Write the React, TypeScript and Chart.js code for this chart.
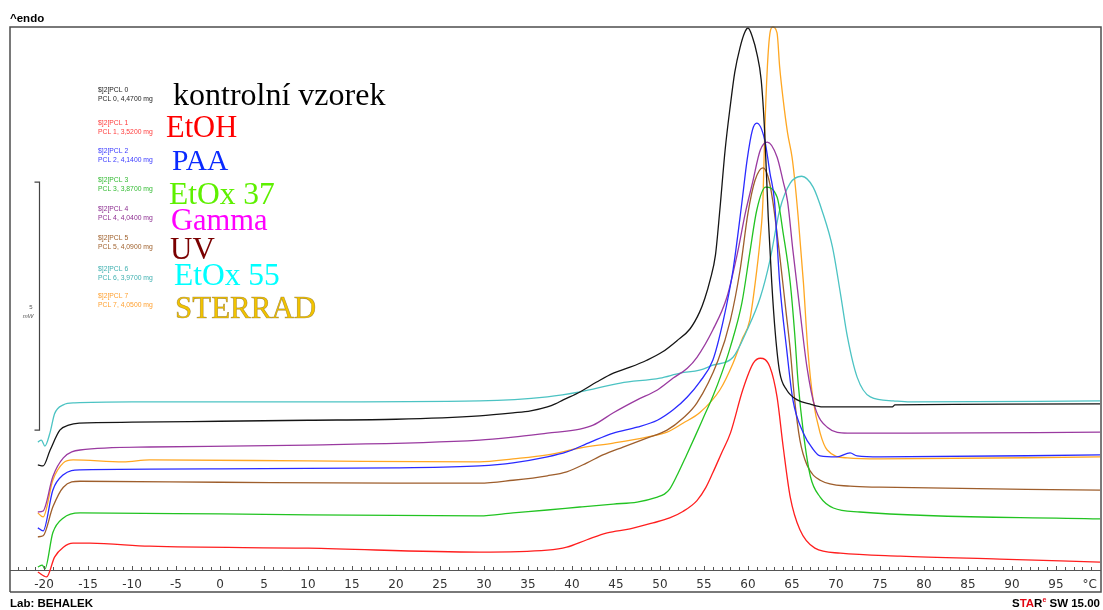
import { useEffect, useRef } from "react";
import { Chart, registerables } from "chart.js";

Chart.register(...registerables);

// Heat flow (mW, endo up) against sample temperature (°C) for each PCL sample.
const kontrolniT = [-20.7, -20.1, -19.3, -18.2, -17.2, -16, -10, 0, 10, 20, 29.5, 33.3, 35.3, 37.2, 38.1, 39, 40.9, 42.8, 44.7, 46.6, 48.5, 50.3, 51.9, 53.4, 54.5, 55.1, 55.7, 56.3, 56.8, 57.4, 58, 58.5, 59.1, 59.6, 60, 60.5, 61, 61.5, 61.9, 62.3, 62.7, 63.1, 63.6, 64.4, 65.6, 67, 68.5, 76.4, 76.7, 100];
const kontrolniHF = [2.14, 2.12, 2.44, 2.84, 2.94, 2.98, 3.0, 3.02, 3.04, 3.06, 3.13, 3.19, 3.23, 3.31, 3.37, 3.45, 3.61, 3.81, 3.99, 4.11, 4.25, 4.42, 4.64, 4.88, 5.22, 5.5, 5.87, 6.37, 7.28, 8.49, 9.4, 10.06, 10.56, 10.85, 10.95, 10.77, 10.44, 9.9, 8.83, 7.14, 5.81, 4.8, 4.01, 3.65, 3.45, 3.37, 3.31, 3.31, 3.35, 3.37];

const etohT = [-20.7, -19.7, -18.8, -17.8, -16.7, -14.8, -8, 10, 29.5, 37.2, 39.4, 41.7, 44, 46.6, 49.2, 51.1, 52.6, 54.2, 55.2, 56, 57, 58, 59.4, 60.6, 61.4, 62.5, 63.3, 64, 64.8, 65.9, 67.6, 70.5, 77.3, 88.6, 100];
const etohHF = [-0.02, -0.12, 0.28, 0.48, 0.56, 0.56, 0.5, 0.46, 0.38, 0.42, 0.48, 0.63, 0.77, 0.85, 0.97, 1.07, 1.2, 1.42, 1.68, 1.98, 2.38, 2.78, 3.65, 4.19, 4.29, 4.11, 3.51, 2.5, 1.49, 0.83, 0.46, 0.36, 0.3, 0.24, 0.18];

const paaT = [-20.7, -20.1, -19, -17.8, -15.9, 0, 20, 29.5, 33.3, 37.2, 39.4, 42.1, 44.7, 47.4, 49.7, 51.5, 53.1, 54.5, 56, 57.2, 58.3, 59.3, 59.9, 60.5, 61, 61.9, 62.5, 63, 63.6, 64.4, 65.1, 66.3, 67.3, 68.2, 70.1, 71.6, 72.4, 75, 100];
const paaHF = [0.87, 0.81, 1.63, 1.94, 2.04, 2.06, 2.08, 2.12, 2.18, 2.3, 2.4, 2.6, 2.78, 2.9, 3.04, 3.25, 3.51, 3.81, 4.25, 5.06, 6.07, 7.42, 8.29, 8.89, 9.03, 8.69, 8.02, 7.48, 5.81, 4.46, 3.45, 2.78, 2.48, 2.32, 2.3, 2.38, 2.32, 2.3, 2.34];

const etox37T = [-20.7, -20.2, -19.9, -19, -17.8, -15.9, 0, 29.5, 33.3, 37.2, 40.9, 44.7, 47.4, 49.7, 50.5, 51.1, 52, 53, 54, 55, 56, 57, 58, 59.3, 60.2, 61, 62, 63.3, 64, 64.8, 65.3, 65.7, 66.3, 67.1, 68.2, 69.7, 72.7, 100];
const etox37HF = [0.08, 0.12, 0.04, 0.77, 1.07, 1.17, 1.15, 1.11, 1.17, 1.23, 1.29, 1.35, 1.39, 1.49, 1.55, 1.65, 1.95, 2.33, 2.72, 3.12, 3.52, 3.98, 4.52, 5.4, 6.41, 7.28, 7.74, 7.54, 6.81, 5.81, 4.8, 3.79, 2.78, 1.9, 1.49, 1.27, 1.19, 1.05];

const gammaT = [-20.7, -20.1, -19, -17.8, -15.9, -8, 10, 29.5, 33.3, 37.2, 40.9, 42.4, 44.7, 47.4, 49.7, 51.5, 53.1, 54.2, 56, 57.6, 58.8, 59.7, 60.5, 61.4, 62.2, 63.3, 64, 64.5, 65.1, 65.9, 66.7, 67.6, 69, 71.3, 78.4, 100];
const gammaHF = [1.19, 1.21, 1.9, 2.28, 2.44, 2.5, 2.54, 2.64, 2.7, 2.78, 2.86, 2.94, 3.19, 3.45, 3.65, 3.89, 4.09, 4.31, 4.86, 5.52, 6.41, 7.22, 7.82, 8.49, 8.65, 8.35, 7.85, 7.45, 6.47, 5.26, 4.11, 3.31, 2.9, 2.78, 2.78, 2.8];

const uvT = [-20.7, -20.1, -19, -17.8, -15.9, 0, 20, 29.5, 33.3, 37.2, 39.4, 41.7, 43.5, 45.8, 48.5, 50.8, 52.6, 54.2, 56.6, 58, 59.1, 60, 60.8, 61.7, 62.3, 62.8, 63.6, 64.3, 64.8, 65.3, 65.9, 66.7, 68.2, 71.6, 75, 100];
const uvHF = [0.69, 0.71, 1.29, 1.69, 1.81, 1.79, 1.77, 1.77, 1.83, 1.92, 2.0, 2.18, 2.34, 2.5, 2.68, 2.84, 3.08, 3.39, 4.25, 5.06, 6.07, 7.22, 7.88, 8.13, 7.94, 7.48, 6.37, 5.26, 4.46, 3.45, 2.64, 2.14, 1.83, 1.71, 1.69, 1.63];

const etox55T = [-20.7, -20.3, -19.9, -19.3, -18.8, -17.8, -16.5, -10, 10, 29.5, 37.2, 40.9, 45.5, 50, 52.3, 54.5, 56, 58.3, 59.9, 61.4, 62.5, 63.6, 64.8, 66.1, 67.4, 68.5, 69.6, 70.5, 71.3, 72.4, 73.9, 76.5, 78.4, 100];
const etox55HF = [2.6, 2.64, 2.52, 2.8, 3.17, 3.35, 3.39, 3.41, 3.41, 3.43, 3.51, 3.61, 3.79, 3.89, 3.99, 4.05, 4.15, 4.31, 4.86, 5.52, 6.27, 7.28, 7.82, 7.96, 7.74, 7.22, 6.53, 5.6, 4.72, 3.91, 3.51, 3.43, 3.41, 3.43];

const sterradT = [-20.7, -20.1, -19, -17.8, -16.7, -11, -8, 10, 29.5, 33.3, 37.2, 40.9, 44.7, 48.5, 50.8, 52.6, 54.5, 56.8, 58.3, 59.3, 60.2, 61, 61.4, 61.7, 61.9, 62.2, 62.5, 62.8, 63.3, 63.6, 64, 64.5, 65, 65.3, 65.7, 66.3, 66.8, 67.4, 68.2, 69, 71.3, 75, 100];
const sterradHF = [1.17, 1.09, 1.83, 2.18, 2.24, 2.2, 2.24, 2.22, 2.2, 2.26, 2.34, 2.48, 2.58, 2.7, 2.8, 2.98, 3.19, 3.65, 4.19, 4.66, 5.06, 6.07, 6.73, 7.48, 8.83, 10.16, 10.85, 10.97, 10.85, 10.16, 9.5, 8.83, 8.35, 7.9, 7.14, 5.81, 4.46, 3.45, 2.78, 2.44, 2.28, 2.26, 2.3];

const sampleNames = ["kontrolní vzorek", "EtOH", "PAA", "EtOx 37", "Gamma", "UV", "EtOx 55", "STERRAD"];
const sampleMasses = ["4,4700", "3,5200", "4,1400", "3,8700", "4,0400", "4,0900", "3,9700", "4,0500"];

const xTickStep = 5;
const scaleBarMW = 5;

const series = [
  { t: kontrolniT, hf: kontrolniHF },
  { t: etohT, hf: etohHF },
  { t: paaT, hf: paaHF },
  { t: etox37T, hf: etox37HF },
  { t: gammaT, hf: gammaHF },
  { t: uvT, hf: uvHF },
  { t: etox55T, hf: etox55HF },
  { t: sterradT, hf: sterradHF },
];

// Styling
const curveColors = ["#151515", "#ff1e1e", "#2a2aff", "#22c322", "#9a3aa0", "#9e5e2c", "#4cc3c3", "#ffa722"];
const tagColors = ["#222222", "#ff3c3c", "#3a3aff", "#33bb33", "#8d2e91", "#a0622e", "#3fb0b0", "#ffa030"];
const nameColors = ["#000000", "#ff0000", "#0a2aff", "#5ef000", "#ff00ff", "#7a0000", "#00ffff", "#f2c400"];

const legendLayout = {
  tagX: 98,
  tagY: [90, 123, 151, 180, 209, 238, 269, 296],
  tagGap: 9.5,
  nameX: [173, 166, 172, 169, 171, 170, 174, 175],
  nameBaseline: [105, 137, 170, 204, 230, 259, 285, 318],
  nameSize: [32, 30.5, 29.5, 31.5, 30.5, 31, 31.5, 31],
};

const X_MIN = -23.864;
const X_MAX = 100;
const Y_MIN = 0.02;
const Y_MAX = 10.97;

const frameColor = "#4d4d4d";

const decorPlugin = {
  id: "dscDecor",
  afterDraw(chart: any) {
    const ctx: CanvasRenderingContext2D = chart.ctx;
    const { left, right, top, bottom } = chart.chartArea;
    const xs = chart.scales.x;
    const ys = chart.scales.y;
    const frameBottom = bottom + 22;
    ctx.save();

    // outer frame
    ctx.strokeStyle = frameColor;
    ctx.lineWidth = 1.5;
    ctx.beginPath();
    ctx.moveTo(left, frameBottom);
    ctx.lineTo(left, top);
    ctx.lineTo(right + 1, top);
    ctx.lineTo(right + 1, frameBottom);
    ctx.lineTo(left, frameBottom);
    ctx.stroke();

    // minor ticks every degree, pointing into the plot
    ctx.lineWidth = 1;
    ctx.strokeStyle = "#555";
    ctx.beginPath();
    for (let t = Math.ceil(X_MIN); t < X_MAX; t++) {
      const px = Math.round(xs.getPixelForValue(t)) + 0.5;
      ctx.moveTo(px, bottom);
      ctx.lineTo(px, bottom - (t % xTickStep === 0 ? 4 : 3));
    }
    ctx.stroke();

    // unit at the end of the temperature axis
    ctx.fillStyle = "#333";
    ctx.font = "12px 'DejaVu Sans'";
    ctx.textAlign = "right";
    ctx.textBaseline = "middle";
    ctx.fillText("°C", right - 3, bottom + 15);

    // 5 mW scale bar
    const barX = Math.round(xs.getPixelForValue(-20.6)) + 0.5;
    const barBottom = ys.getPixelForValue(2.84);
    const barTop = ys.getPixelForValue(2.84 + scaleBarMW);
    ctx.strokeStyle = "#444";
    ctx.lineWidth = 1.2;
    ctx.beginPath();
    ctx.moveTo(barX - 5, barTop);
    ctx.lineTo(barX, barTop);
    ctx.lineTo(barX, barBottom);
    ctx.lineTo(barX - 5, barBottom);
    ctx.stroke();
    ctx.fillStyle = "#555";
    ctx.textAlign = "right";
    ctx.font = "6px 'Liberation Sans'";
    const barMid = (barTop + barBottom) / 2;
    ctx.fillText(String(scaleBarMW), barX - 7, barMid + 1);
    ctx.font = "italic 6px 'Liberation Sans'";
    ctx.fillText("mW", barX - 6, barMid + 10);

    // header and footer texts
    ctx.fillStyle = "#000";
    ctx.textAlign = "left";
    ctx.textBaseline = "alphabetic";
    ctx.font = "bold 11.5px 'Liberation Sans'";
    ctx.fillText("^endo", left, top - 5);
    ctx.fillText("Lab: BEHALEK", left, frameBottom + 15);

    // software mark, right aligned
    const parts: [string, string, string][] = [
      ["S", "#000", "bold 11.5px 'Liberation Sans'"],
      ["TA", "#e30613", "bold 11.5px 'Liberation Sans'"],
      ["R", "#000", "bold 11.5px 'Liberation Sans'"],
      ["e", "#e30613", "bold 7px 'Liberation Sans'"],
      [" SW 15.00", "#000", "bold 11.5px 'Liberation Sans'"],
    ];
    let total = 0;
    for (const [s, , f] of parts) {
      ctx.font = f;
      total += ctx.measureText(s).width;
    }
    let cx = right - total;
    const baseY = frameBottom + 15;
    for (const [s, c, f] of parts) {
      ctx.font = f;
      ctx.fillStyle = c;
      ctx.fillText(s, cx, s === "e" ? baseY - 5 : baseY);
      cx += ctx.measureText(s).width;
    }

    // sample legend: curve tag, mass line and sample name
    for (let i = 0; i < sampleNames.length; i++) {
      ctx.textAlign = "left";
      ctx.textBaseline = "middle";
      ctx.font = "6.8px 'Liberation Sans'";
      ctx.fillStyle = tagColors[i];
      ctx.fillText(`$]2[PCL ${i}`, legendLayout.tagX, legendLayout.tagY[i]);
      ctx.fillText(`PCL ${i}, ${sampleMasses[i]} mg`, legendLayout.tagX, legendLayout.tagY[i] + legendLayout.tagGap);

      ctx.textBaseline = "alphabetic";
      ctx.font = `${legendLayout.nameSize[i]}px 'Liberation Serif'`;
      ctx.fillStyle = nameColors[i];
      ctx.fillText(sampleNames[i], legendLayout.nameX[i], legendLayout.nameBaseline[i]);
      if (i === 7) {
        ctx.strokeStyle = "rgba(120, 90, 20, 0.55)";
        ctx.lineWidth = 0.6;
        ctx.strokeText(sampleNames[i], legendLayout.nameX[i], legendLayout.nameBaseline[i]);
      }
    }
    ctx.restore();
  },
};

export default function App() {
  const canvasRef = useRef<HTMLCanvasElement | null>(null);

  useEffect(() => {
    const canvas = canvasRef.current;
    if (!canvas) return;
    const chart = new Chart(canvas, {
      type: "line",
      data: {
        datasets: series.map((s, i) => ({
          label: sampleNames[i],
          data: s.t.map((t, k) => ({ x: t, y: s.hf[k] })),
          borderColor: curveColors[i],
          backgroundColor: curveColors[i],
          borderWidth: 1.3,
          pointRadius: 0,
          cubicInterpolationMode: "monotone" as const,
          fill: false,
          clip: false as any,
        })),
      },
      options: {
        animation: false,
        responsive: true,
        maintainAspectRatio: false,
        events: [],
        layout: { padding: { left: 10, top: 27, right: 3, bottom: 9.6 } },
        plugins: {
          legend: { display: false },
          tooltip: { enabled: false },
        },
        scales: {
          x: {
            type: "linear",
            min: X_MIN,
            max: X_MAX,
            grid: { display: false, drawTicks: false },
            border: { display: true, color: "#555", width: 1 },
            // keep labelled ticks away from the right edge (the unit sits there)
            afterBuildTicks: (scale: any) => {
              scale.ticks = scale.ticks.filter((t: any) => t.value < X_MAX);
            },
            ticks: {
              stepSize: xTickStep,
              includeBounds: false,
              autoSkip: false,
              maxRotation: 0,
              padding: 8,
              color: "#333",
              font: { family: "'DejaVu Sans'", size: 12 },
              callback: (v: any) => String(v),
            },
          },
          y: {
            type: "linear",
            display: false,
            min: Y_MIN,
            max: Y_MAX,
          },
        },
      },
      plugins: [decorPlugin],
    });
    return () => chart.destroy();
  }, []);

  return (
    <div style={{ position: "absolute", left: 0, top: 0, width: 1103, height: 610, background: "#fff" }}>
      <canvas ref={canvasRef} />
    </div>
  );
}
